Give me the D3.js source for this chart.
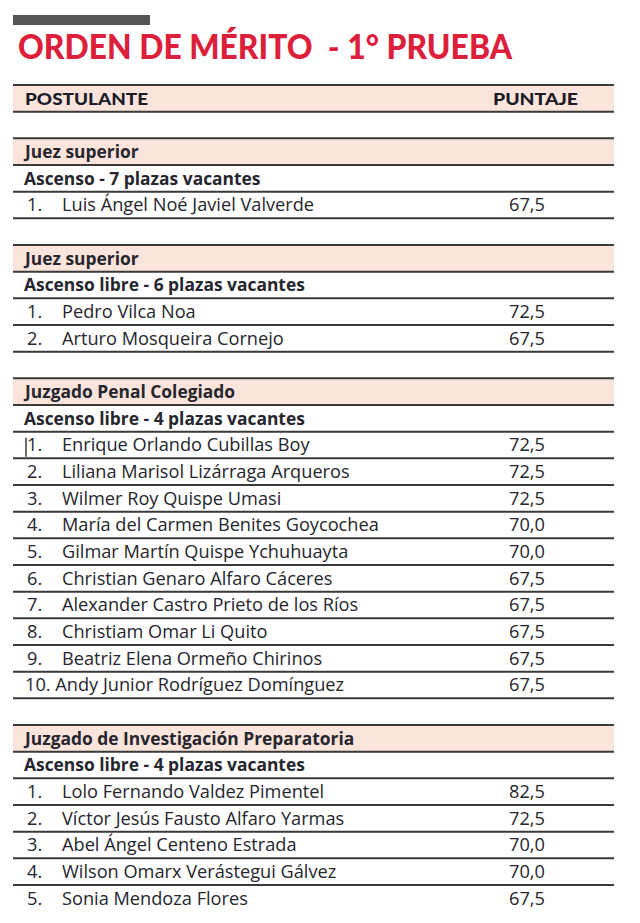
<!DOCTYPE html>
<html>
<head>
<meta charset="utf-8">
<script src="https://cdn.jsdelivr.net/npm/d3@7"></script>
<style>
  html, body { margin: 0; padding: 0; background: #ffffff; }
  svg { display: block; }
</style>
</head>
<body>
<svg id="chart" width="640" height="923"></svg>
<script>
// ---- data ----
const title = "ORDEN DE MÉRITO  - 1° PRUEBA";
const columnHeaders = ["POSTULANTE", "PUNTAJE"];
const sectionTitles = ["Juez superior", "Juez superior", "Juzgado Penal Colegiado", "Juzgado de Investigación Preparatoria"];
const sectionSubtitles = ["Ascenso - 7 plazas vacantes", "Ascenso libre - 6 plazas vacantes", "Ascenso libre - 4 plazas vacantes", "Ascenso libre - 4 plazas vacantes"];
const names1 = ["Luis Ángel Noé Javiel Valverde"];
const scores1 = [67.5];
const names2 = ["Pedro Vilca Noa", "Arturo Mosqueira Cornejo"];
const scores2 = [72.5, 67.5];
const names3 = ["Enrique Orlando Cubillas Boy", "Liliana Marisol Lizárraga Arqueros", "Wilmer Roy Quispe Umasi",
  "María del Carmen Benites Goycochea", "Gilmar Martín Quispe Ychuhuayta", "Christian Genaro Alfaro Cáceres",
  "Alexander Castro Prieto de los Ríos", "Christiam Omar Li Quito", "Beatriz Elena Ormeño Chirinos",
  "Andy Junior Rodríguez Domínguez"];
const scores3 = [72.5, 72.5, 72.5, 70.0, 70.0, 67.5, 67.5, 67.5, 67.5, 67.5];
const names4 = ["Lolo Fernando Valdez Pimentel", "Víctor Jesús Fausto Alfaro Yarmas", "Abel Ángel Centeno Estrada",
  "Wilson Omarx Verástegui Gálvez", "Sonia Mendoza Flores"];
const scores4 = [82.5, 72.5, 70.0, 70.0, 67.5];

// ---- build rows ----
const sectionNames = [names1, names2, names3, names4];
const sectionScores = [scores1, scores2, scores3, scores4];
const rows = [{type: "header"}, {type: "blank"}];
sectionTitles.forEach((t, s) => {
  if (s > 0) rows.push({type: "blank"});
  rows.push({type: "section", text: t});
  rows.push({type: "sub", text: sectionSubtitles[s]});
  sectionNames[s].forEach((n, i) => rows.push({type: "entry", rank: i + 1, name: n, score: sectionScores[s][i], section: s}));
});

const fmtLocale = d3.formatLocale({decimal: ",", thousands: ".", grouping: [3], currency: ["", ""]});
const fmt = fmtLocale.format(".1f");

const svg = d3.select("#chart");
const left = 13, right = 614;
const rowH = 800 / 30;
const y = d3.scaleBand().domain(d3.range(rows.length)).range([85, 85 + rows.length * rowH]).padding(0);
const col = d3.scaleOrdinal().domain(["rank", "name", "score"]).range([27, 62, 527]);

const FONT = "'Open Sans', Lato, sans-serif";
const HFONT = "Lato, 'Open Sans', sans-serif";
const textColor = "#26262e";
const lineColor = "#3a3a3a";
const pink = "#fbe4dc";
const fs = 18.2;

// top gray bar
svg.append("rect").attr("x", 13).attr("y", 15).attr("width", 137).attr("height", 10).attr("fill", "#555555");

// title
svg.append("text")
  .attr("x", 18).attr("y", 59)
  .style("white-space", "pre")
  .attr("font-family", HFONT).attr("font-weight", 900).attr("font-size", 34)
  .attr("fill", "#dc1f3b")
  .attr("textLength", 494).attr("lengthAdjust", "spacingAndGlyphs")
  .text(title);

// pink bands
rows.forEach((r, i) => {
  if (r.type === "header" || r.type === "section") {
    svg.append("rect").attr("x", left).attr("y", y(i)).attr("width", right - left).attr("height", y.bandwidth()).attr("fill", pink);
  }
});

// lines
rows.forEach((r, i) => {
  if (r.type === "blank") return;
  svg.append("line").attr("x1", left).attr("x2", right).attr("y1", y(i)).attr("y2", y(i))
    .attr("stroke", lineColor).attr("stroke-width", 2);
  const next = rows[i + 1];
  if (next && next.type === "blank") {
    const yb = y(i) + y.bandwidth();
    svg.append("line").attr("x1", left).attr("x2", right).attr("y1", yb).attr("y2", yb)
      .attr("stroke", lineColor).attr("stroke-width", 2);
  }
});

// texts
rows.forEach((r, i) => {
  const by = y(i) + 19.5;
  if (r.type === "header") {
    svg.append("text").attr("x", 25).attr("y", by).attr("font-family", HFONT).attr("font-weight", 900)
      .attr("font-size", 17).attr("fill", "#1c1c28")
      .attr("textLength", 123).attr("lengthAdjust", "spacingAndGlyphs").text(columnHeaders[0]);
    svg.append("text").attr("x", 493).attr("y", by).attr("font-family", HFONT).attr("font-weight", 900)
      .attr("font-size", 17).attr("fill", "#1c1c28")
      .attr("textLength", 85).attr("lengthAdjust", "spacingAndGlyphs").text(columnHeaders[1]);
  } else if (r.type === "section" || r.type === "sub") {
    svg.append("text").attr("x", r.type === "section" ? 25 : 24).attr("y", by).attr("font-family", FONT)
      .attr("font-weight", 700).attr("font-size", 17.4).attr("fill", textColor)
      .text(r.text);
  } else if (r.type === "entry") {
    if (r.rank < 10) {
      svg.append("text").attr("x", col("rank")).attr("y", by).attr("font-family", FONT)
        .attr("font-size", fs).attr("fill", textColor).text(r.rank + ".");
      svg.append("text").attr("x", col("name")).attr("y", by).attr("font-family", FONT)
        .attr("font-size", fs).attr("fill", textColor).text(r.name);
    } else {
      svg.append("text").attr("x", 25).attr("y", by).attr("font-family", FONT)
        .attr("font-size", fs).attr("fill", textColor).text(r.rank + ". " + r.name);
    }
    svg.append("text").attr("x", col("score")).attr("y", by).attr("text-anchor", "middle").attr("font-family", FONT)
      .attr("font-size", fs).attr("fill", textColor).text(fmt(r.score));
    // text-cursor artifact in the reference (first row of third block)
    if (r.section === 2 && r.rank === 1) {
      svg.append("line").attr("x1", 26).attr("x2", 26).attr("y1", y(i) + 6).attr("y2", y(i) + 25)
        .attr("stroke", "#222").attr("stroke-width", 1.3);
    }
  }
});
</script>
</body>
</html>
